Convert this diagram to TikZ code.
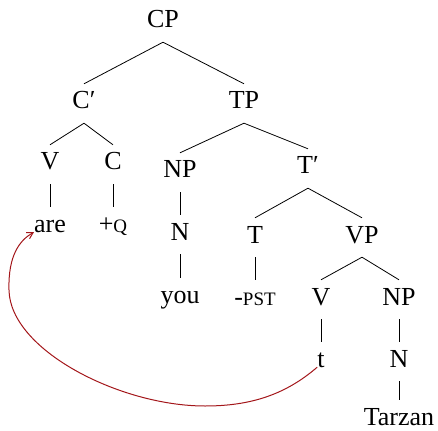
\documentclass[tikz,border=0pt]{standalone}
\usepackage{fontspec}
\setmainfont{Liberation Serif}
\usetikzlibrary{arrows.meta}
\newcommand\treeedge[2]{\draw[branch] ([yshift=-14pt]#1.south) -- ([yshift=7pt]#2.north);}
\begin{document}
\begin{tikzpicture}[x=1pt,y=-1pt,
  lab/.style={font=\fontsize{26}{30}\selectfont, inner sep=0pt, text height=18pt, text depth=0pt},
  branch/.style={line width=0.8pt, draw=black},
  move/.style={line width=1pt, draw=movered, -{Straight Barb[length=6pt,width=7pt]}}]
\definecolor{movered}{HTML}{A3161A}
\useasboundingbox (0,0) rectangle (438,430);
\newcommand\scap[1]{{\fontsize{19}{20}\selectfont #1}}
\node[lab] (cp) at (163,19) {CP};
\node[lab] (cb) at (84,100) {C′};
\node[lab] (tp) at (244,100) {TP};
\node[lab] (v1) at (50,161) {V};
\node[lab] (c) at (113,161) {C};
\node[lab] (np1) at (180,169) {NP};
\node[lab] (tb) at (308,165) {T′};
\node[lab] (are) at (50,223) {are};
\node[lab] (q) at (113,223) {+\scap{Q}};
\node[lab] (n1) at (180,231) {N};
\node[lab] (t) at (255,234) {T};
\node[lab] (vp) at (362,234) {VP};
\node[lab] (you) at (180,294) {you};
\node[lab] (pst) at (255,296) {-\scap{PST}};
\node[lab] (v2) at (321,296) {V};
\node[lab] (np2) at (399,296) {NP};
\node[lab] (tr) at (321,358) {t};
\node[lab] (n2) at (399,358) {N};
\node[lab] (tarzan) at (399,416) {Tarzan};
\treeedge{cp}{cb}
\treeedge{cp}{tp}
\treeedge{cb}{v1}
\treeedge{cb}{c}
\treeedge{tp}{np1}
\treeedge{tp}{tb}
\treeedge{v1}{are}
\treeedge{c}{q}
\treeedge{np1}{n1}
\treeedge{n1}{you}
\treeedge{tb}{t}
\treeedge{tb}{vp}
\treeedge{t}{pst}
\treeedge{vp}{v2}
\treeedge{vp}{np2}
\treeedge{v2}{tr}
\treeedge{np2}{n2}
\treeedge{n2}{tarzan}
\draw[move] (tr.south west) .. controls (285,395) and (250,406) .. (205,406)
  .. controls (120,406) and (10,350) .. (9,290)
  .. controls (8,255) and (20,240) .. (are.south west);
\end{tikzpicture}
\end{document}
